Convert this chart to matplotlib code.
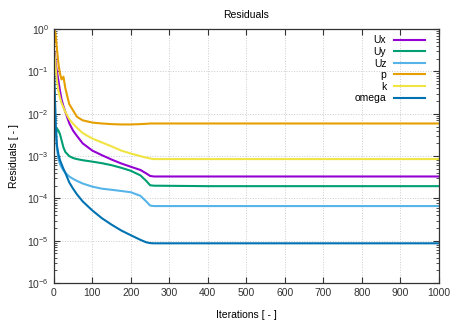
import matplotlib
matplotlib.use("Agg")
from matplotlib import pyplot as plt, ticker

plt.rcParams['font.family'] = ['Liberation Sans', 'DejaVu Sans']
plt.rcParams['mathtext.default'] = 'regular'

# iteration nodes
iters = [1, 3, 5, 8, 12, 16, 20, 25, 30, 40, 50, 60, 75, 100, 125, 150,
         175, 200, 225, 240, 250, 260, 400, 600, 800, 1000]

ux = [0.3, 0.25, 0.15, 0.1, 0.06, 0.035, 0.022, 0.015, 0.011, 6e-3, 4e-3,
      3e-3, 2e-3, 1.35e-3, 1.05e-3, 8.3e-4, 6.7e-4, 5.6e-4, 4.7e-4, 3.9e-4,
      3.4e-4, 3.3e-4, 3.3e-4, 3.3e-4, 3.3e-4, 3.3e-4]
uy = [2.5e-3, 3.5e-3, 3e-3, 4.5e-3, 4e-3, 3.3e-3, 2.4e-3, 1.6e-3, 1.25e-3,
      1e-3, 9e-4, 8.5e-4, 8e-4, 7.4e-4, 6.8e-4, 6.1e-4, 5.3e-4, 4.5e-4,
      3.5e-4, 2.6e-4, 2.05e-4, 2e-4, 1.95e-4, 1.95e-4, 1.95e-4, 1.95e-4]
uz = [0.05, 0.02, 5e-3, 1.5e-3, 8.5e-4, 6.5e-4, 5.5e-4, 4.6e-4, 4e-4, 3.3e-4,
      2.9e-4, 2.6e-4, 2.25e-4, 1.9e-4, 1.7e-4, 1.6e-4, 1.5e-4, 1.4e-4,
      1.15e-4, 8.5e-5, 6.8e-5, 6.6e-5, 6.6e-5, 6.6e-5, 6.6e-5, 6.6e-5]
p = [0.5, 0.9, 0.7, 0.35, 0.15, 0.09, 0.065, 0.075, 0.04, 0.017, 0.012,
     8.5e-3, 7e-3, 6.2e-3, 5.9e-3, 5.7e-3, 5.6e-3, 5.6e-3, 5.7e-3, 5.8e-3,
     5.9e-3, 5.9e-3, 5.9e-3, 5.9e-3, 5.9e-3, 5.9e-3]
k = [0.3, 0.2, 0.12, 0.06, 0.035, 0.024, 0.018, 0.014, 0.011, 7.5e-3, 5.8e-3,
     4.7e-3, 3.5e-3, 2.6e-3, 2.1e-3, 1.7e-3, 1.35e-3, 1.15e-3, 1e-3, 9.2e-4,
     8.8e-4, 8.5e-4, 8.5e-4, 8.5e-4, 8.5e-4, 8.5e-4]
omega = [0.08, 0.02, 5e-3, 1.8e-3, 1.1e-3, 8e-4, 6.5e-4, 5e-4, 4e-4, 2.4e-4,
         1.7e-4, 1.25e-4, 8.5e-5, 5.2e-5, 3.4e-5, 2.4e-5, 1.75e-5, 1.35e-5,
         1.05e-5, 9.2e-6, 8.8e-6, 8.7e-6, 8.7e-6, 8.7e-6, 8.7e-6, 8.7e-6]

series = [('Ux', ux, '#9400d3'), ('Uy', uy, '#009e73'), ('Uz', uz, '#56b4e9'),
          ('p', p, '#e69f00'), ('k', k, '#f0e442'), ('omega', omega, '#0072b2')]

fig = plt.figure(figsize=(4.6, 3.35), dpi=100)
ax = fig.add_axes([0.117, 0.155, 0.837, 0.758])

for name, vals, col in series:
    ax.plot(iters, vals, color=col, lw=1.5, label=name)

ax.set_yscale('log')
ax.set_xlim(0, 1000)
ax.set_ylim(1e-6, 1)
ax.xaxis.set_major_locator(ticker.MultipleLocator(100))
ax.yaxis.set_major_locator(ticker.LogLocator(base=10, numticks=10))
ax.yaxis.set_minor_locator(ticker.LogLocator(base=10, subs=range(2, 10), numticks=10))
ax.yaxis.set_minor_formatter(ticker.NullFormatter())
ax.tick_params(which='both', direction='in', top=True, right=True,
               labelsize=7.5, colors='#333333')
ax.tick_params(which='major', length=4, width=0.8)
ax.tick_params(which='minor', length=2, width=0.6)
ax.grid(True, which='major', color='#cccccc', ls=':', lw=0.7)
for sp in ax.spines.values():
    sp.set_color('#333333')
    sp.set_linewidth(0.9)

ax.set_title('Residuals', fontsize=7.5, pad=8)
ax.set_xlabel('Iterations [ - ]', fontsize=7.5, labelpad=9)
ax.set_ylabel('Residuals [ - ]', fontsize=7.5, labelpad=6)

ax.legend(loc='upper right', frameon=False, fontsize=7.5, markerfirst=False,
          handlelength=3.0, labelspacing=0.15, handletextpad=0.7,
          borderaxespad=0.2, bbox_to_anchor=(0.98, 1.0))

fig.savefig('out.png', dpi=100)
